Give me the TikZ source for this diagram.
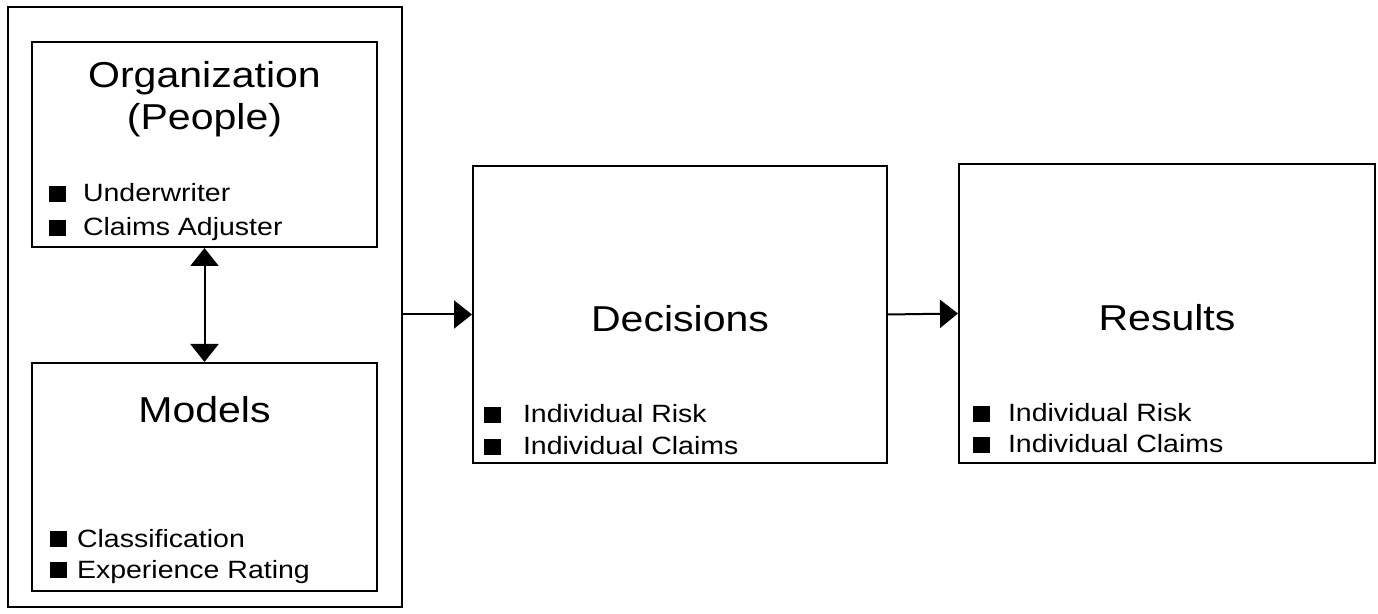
\documentclass[tikz,border=0pt]{standalone}
\usepackage{fontspec}
\setmainfont{Liberation Sans}[FakeStretch=1.14]
\usetikzlibrary{positioning, arrows.meta}

\newcommand{\blt}[1]{\rule{17pt}{16pt}\hspace{#1}}

\begin{document}
\begin{tikzpicture}[x=1pt, y=1pt, line width=2pt,
	box/.style={draw, rectangle, inner sep=0pt},
	title/.style={inner sep=0pt, align=center, font=\fontsize{36}{42}\selectfont},
	item/.style={inner sep=0pt, anchor=base west, font=\fontsize{25}{30}\selectfont},
	flow/.style={-{Triangle[length=18pt, width=28pt]}},
	twoway/.style={{Triangle[length=18pt, width=28pt]}-{Triangle[length=18pt, width=28pt]}}]
	\useasboundingbox (0,0) rectangle (1378,613);

	\node[box, minimum width=394pt, minimum height=600pt] (outer)  at (205,306) {};
	\node[box, minimum width=345pt, minimum height=205pt] (org)    at (204.5,468.5) {};
	\node[box, minimum width=345pt, minimum height=228pt] (models) at (204.5,136) {};
	\node[box, minimum width=414pt, minimum height=297pt] (dec)    at (680,298.5) {};
	\node[box, minimum width=416pt, minimum height=299pt] (res)    at (1167,299.5) {};

	\node[title, below=19pt of org.north]    (orgtitle) {Organization\\(People)};
	\node[title, below=33pt of models.north] (modtitle) {Models};
	\node[title] (dectitle) at ([yshift=-4pt]dec.center) {Decisions};
	\node[title] (restitle) at ([yshift=-4pt]res.center) {Results};

	\node[item] (org1) at (48,411) {\blt{17pt}Underwriter};
	\node[item] (org2) at (48,377) {\blt{17pt}Claims Adjuster};
	\node[item] (mod1) at (49,66)  {\blt{10pt}Classification};
	\node[item] (mod2) at (49,35)  {\blt{10pt}Experience Rating};
	\node[item] (dec1) at (483,190) {\blt{22pt}Individual Risk};
	\node[item] (dec2) at (483,158) {\blt{22pt}Individual Claims};
	\node[item] (res1) at (972,191) {\blt{18pt}Individual Risk};
	\node[item] (res2) at (972,160) {\blt{18pt}Individual Claims};

	\draw[twoway] (org.south) -- (models.north);
	\draw[flow] (outer.east |- dec.west) -- (dec.west);
	\draw[flow] (dec.east) -- (res.west);
\end{tikzpicture}
\end{document}
